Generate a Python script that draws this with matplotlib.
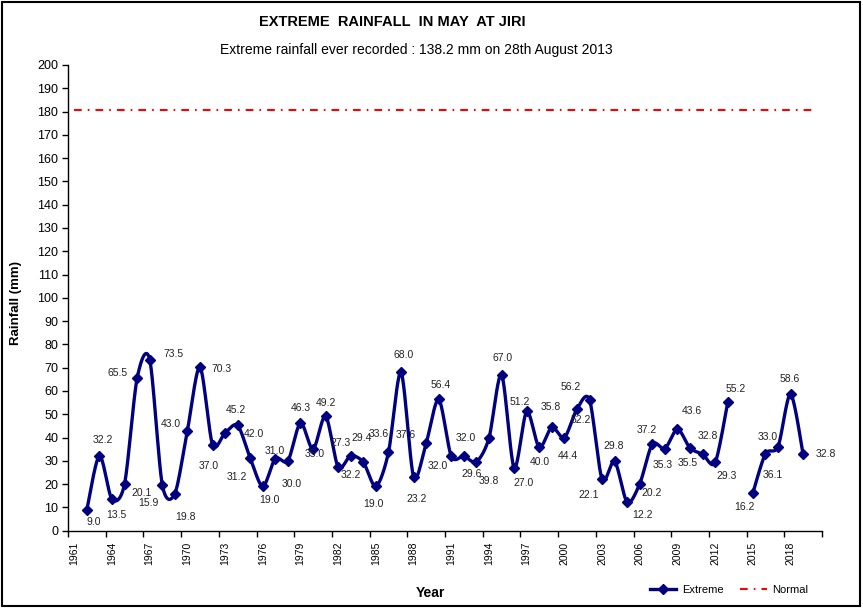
# Extreme rainfall in May at Jiri
import numpy as np
import matplotlib.pyplot as plt
from matplotlib.lines import Line2D
from matplotlib.patches import Rectangle

plt.rcParams['font.family'] = ['Liberation Sans', 'DejaVu Sans']

years = list(range(1962, 2020))
rain = [9.0, 32.2, 13.5, 20.1, 65.5, 73.5, 19.8, 15.9, 43.0, 70.3,
        37.0, 42.0, 45.2, 31.2, 19.0, 31.0, 30.0, 46.3, 35.0, 49.2,
        27.3, 32.2, 29.4, 19.0, 33.6, 68.0, 23.2, 37.6, 56.4, 32.0,
        32.0, 29.6, 39.8, 67.0, 27.0, 51.2, 35.8, 44.4, 40.0, 52.2,
        56.2, 22.1, 29.8, 12.2, 20.2, 37.2, 35.3, 43.6, 35.5, 32.8,
        29.3, 55.2, None, 16.2, 33.0, 36.1, 58.6, 32.8]
normal = 180.8
normal_years = [1961, 2020]
tick_years = list(range(1961, 2019, 3))

# where each data label sits relative to its point (pixels, y downwards)
label_off = [(7, 12), (3, -16), (4, 16), (17, 9), (-20, -5), (24, -6), (23, 32),
             (-26, 9), (-17, -7), (22, 2), (-4, 21), (29, 1), (-2, -15), (-13, 19),
             (7, 14), (-1, -8), (4, 23), (0, -15), (2, 5), (0, -13), (2, -24),
             (0, 19), (-2, -24), (-2, 18), (-10, -18), (3, -17), (3, 22), (-20, -8),
             (2, -14), (-14, 10), (2, -18), (-5, 12), (0, 43), (1, -17), (9, 15),
             (-7, -9), (12, -40), (16, 29), (-25, 24), (4, 11), (-19, -13),
             (-13, 16), (-1, -15), (15, 13), (12, 9), (-6, -14), (-2, 16),
             (14, -18), (-2, 15), (5, -18), (11, 14), (8, -13), None, (-8, 14),
             (2, -17), (-5, 28), (-1, -15), (23, 0)]


def smooth(xs, ys, n=24, k=7.0):
    # bezier smoothing through the points, like a spreadsheet "smoothed line"
    p = np.column_stack([xs, ys]).astype(float)
    if len(p) < 2:
        return p
    out = [p[0]]
    t = np.linspace(0, 1, n)[1:, None]
    for i in range(len(p) - 1):
        p0 = p[i - 1] if i > 0 else p[i]
        p3 = p[i + 2] if i + 2 < len(p) else p[i + 1]
        c1 = p[i] + (p[i + 1] - p0) / k
        c2 = p[i + 1] - (p3 - p[i]) / k
        b = (1 - t) ** 3 * p[i] + 3 * (1 - t) ** 2 * t * c1 + 3 * (1 - t) * t ** 2 * c2 + t ** 3 * p[i + 1]
        out.extend(b)
    return np.array(out)


navy = '#000080'
fig = plt.figure(figsize=(8.63, 6.08), dpi=100)
ax = fig.add_axes([68 / 863, 1 - 530.7 / 608, (822 - 68) / 863, (530.7 - 65) / 608])

# split the series where a year is missing
segs, cur = [], []
for y, v in zip(years, rain):
    if v is None:
        if cur:
            segs.append(cur)
        cur = []
    else:
        cur.append((y, v))
if cur:
    segs.append(cur)

for s in segs:
    xs, ys = zip(*s)
    c = smooth(xs, ys)
    ax.plot(c[:, 0], c[:, 1], color=navy, lw=2.4, solid_capstyle='round', zorder=3)
    ax.plot(xs, ys, 'D', color=navy, ms=5.5, zorder=4)

ax.plot(normal_years, [normal, normal], color='red', lw=1.5,
        linestyle=(0, (3.7, 2.9, 0.8, 2.9)), zorder=2)

for y, v, off in zip(years, rain, label_off):
    if v is None:
        continue
    ax.annotate(f'{v:.1f}', (y, v), xytext=(off[0], -off[1]), textcoords='offset pixels',
                ha='center', va='center', fontsize=7.5, color='#222222', zorder=5)

ax.set_xlim(1960.5, 2020.5)
ax.set_ylim(0, 200)
ax.set_yticks(range(0, 201, 10))
ax.tick_params(axis='y', direction='out', length=4, width=1, labelsize=9, pad=3)
ax.set_xticks(np.arange(1960.5, 2021, 3))
ax.set_xticklabels([])
ax.tick_params(axis='x', which='major', direction='out', length=4, width=1)
ax.set_xticks(tick_years, minor=True)
ax.set_xticklabels([str(y) for y in tick_years], minor=True, rotation=90, fontsize=7.5)
ax.tick_params(axis='x', which='minor', length=0, pad=8)
for sp in ['top', 'right']:
    ax.spines[sp].set_visible(False)
for sp in ['left', 'bottom']:
    ax.spines[sp].set_linewidth(1)

fig.text(16 / 863, 1 - 303 / 608, 'Rainfall (mm)', rotation=90, ha='center', va='center',
         fontsize=9.5, fontweight='bold')
fig.text(430 / 863, 1 - 593 / 608, 'Year', ha='center', va='center', fontsize=10, fontweight='bold')
fig.text(392 / 863, 1 - 22 / 608, 'EXTREME  RAINFALL  IN MAY  AT JIRI', ha='center', va='center',
         fontsize=10.5, fontweight='bold')
fig.text(416 / 863, 1 - 50 / 608, 'Extreme rainfall ever recorded : 138.2 mm on 28th August 2013',
         ha='center', va='center', fontsize=10)

handles = [Line2D([], [], color=navy, lw=2.4, marker='D', ms=5.5),
           Line2D([], [], color='red', lw=1.5, linestyle=(0, (3.7, 2.9, 0.8, 2.9)))]
fig.legend(handles, ['Extreme', 'Normal'], loc='center', bbox_to_anchor=(729 / 863, 1 - 590 / 608),
           ncol=2, frameon=False, fontsize=8, handlelength=2.4, columnspacing=1.5, handletextpad=0.5)

fig.patches.append(Rectangle((2 / 863, 2 / 608), 858 / 863, 604 / 608, transform=fig.transFigure,
                             fill=False, edgecolor='black', lw=1.5))

fig.savefig('out.png', dpi=100)
